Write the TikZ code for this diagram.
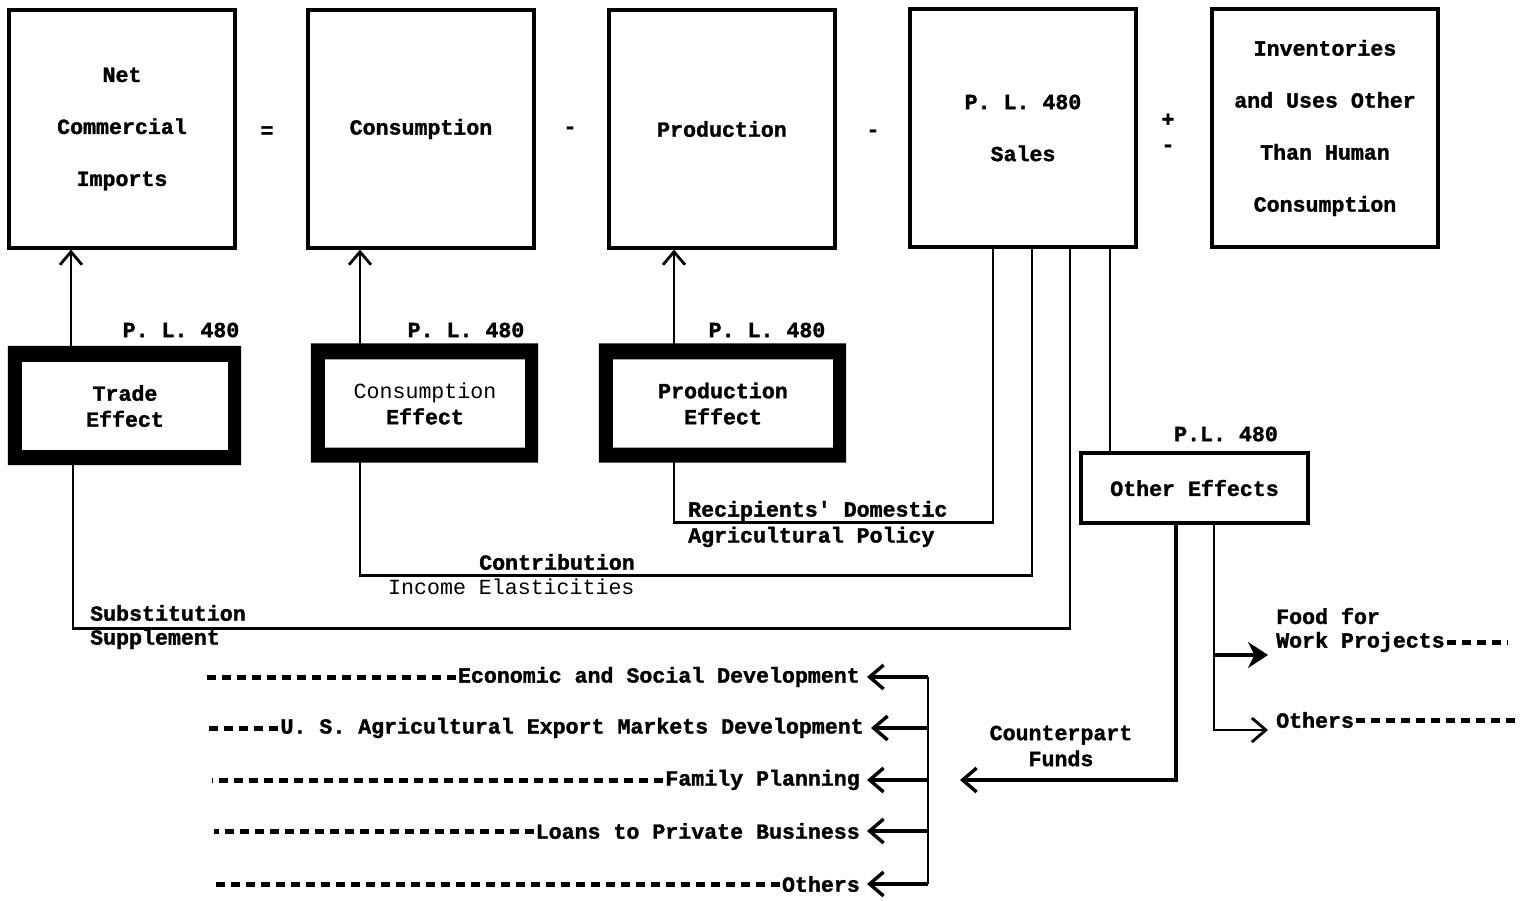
\documentclass[tikz,border=0pt]{standalone}
\usepackage{fontspec}
\setmonofont[BoldFeatures={FakeBold=1.5}]{Liberation Mono}
\usetikzlibrary{arrows.meta}

\tikzset{
  topbox/.style={draw, line width=3.2pt, minimum width=226pt, minimum height=238pt,
    align=center, font=\fontsize{21.6}{52}\selectfont\ttfamily\bfseries},
  effbox/.style={fill=white, minimum height=88pt, align=center, inner sep=0pt},
  othbox/.style={draw, line width=3.2pt, minimum width=227pt, minimum height=70pt},
  link/.style={line width=2.8pt},
  uparr/.style={link, -{Straight Barb[length=13pt,width=22pt]}},
  back/.style={line width=3.4pt, -{Straight Barb[length=14pt,width=24pt]}, shorten >=5pt},
  fwd/.style={line width=4.5pt, -{Stealth[length=20pt,width=26pt]}},
  leader/.style={line width=5pt, dash pattern=on 9pt off 6pt},
}
\newcommand{\effframe}[1]{
  % heavy black frame round an effect box
  \fill[even odd rule] ([shift={(-14,-16)}]#1.north west) rectangle ([shift={(13,15)}]#1.south east)
    (#1.north west) rectangle (#1.south east);
}

\begin{document}
\begin{tikzpicture}[x=1pt, y=-1pt,
  every node/.style={font=\fontsize{21.6}{26}\selectfont\ttfamily\bfseries, inner sep=2pt}]
\useasboundingbox (0,0) rectangle (1521,900);

% the identity
\node[topbox] (net) at (122,129) {Net\\Commercial\\Imports};
\node[topbox] (cons) at (421,129) {Consumption};
\node[topbox] (prod) at (722,129) {Production};
\node[topbox] (sales) at (1023,128) {P. L. 480\\Sales};
\node[topbox] (inv) at (1325,128) {Inventories\\and Uses Other\\Than Human\\Consumption};
\node (eq) at (267,132) {=};
\node (mi1) at (570,130) {-};
\node (mi2) at (873,133) {-};
\node (pl) at (1168,120) {+};
\node (mi3) at (1168,148) {-};

% effects
\node[effbox, minimum width=206pt] (trade) at (125,406) {Trade\\Effect};
\node[effbox, minimum width=200pt] (conseff) at (425,403.5) {{\mdseries Consumption}\\Effect};
\node[effbox, minimum width=220pt] (prodeff) at (723,403.5) {Production\\Effect};
\node[othbox] (other) at (1194.5,488) {Other Effects};
\node (pla) at (181,330) {P. L. 480};
\node (plb) at (466,330) {P. L. 480};
\node (plc) at (767,330) {P. L. 480};
\node (pld) at (1226,434) {P.L. 480};

\draw[uparr] ([xshift=-51pt]net.south |- trade.north) -- ([xshift=-51pt]net.south);
\draw[uparr] ([xshift=-61pt]cons.south |- conseff.north) -- ([xshift=-61pt]cons.south);
\draw[uparr] ([xshift=-48pt]prod.south |- prodeff.north) -- ([xshift=-48pt]prod.south);

\draw[link] ([xshift=-52pt]trade.south) -- ++(0,178) -| ([xshift=47pt]sales.south);
\draw[link] ([xshift=-65pt]conseff.south) -- ++(0,128) -| ([xshift=9pt]sales.south);
\draw[link] ([xshift=-49pt]prodeff.south) -- ++(0,75) -| ([xshift=-30pt]sales.south);
\draw[link] ([xshift=87pt]sales.south) -- ([xshift=87pt]sales.south |- other.north);

\effframe{trade}
\effframe{conseff}
\effframe{prodeff}

\node[anchor=west] (subs) at (88,613) {Substitution};
\node[anchor=west] (supp) at (88,639) {Supplement};
\node (contr) at (557,562) {Contribution};
\node[anchor=west, font=\fontsize{21.6}{26}\selectfont\ttfamily\mdseries] (incel) at (386,587) {Income Elasticities};
\node[anchor=west] (recip) at (686,511) {Recipients' Domestic};
\node[anchor=west] (agri) at (686,537) {Agricultural Policy};

% uses of the other effects
\coordinate (cf) at (960,780);
\coordinate (fa) at (1268,655);
\coordinate (oa) at (1268,730);
\node[align=center] (cpf) at (1061,746) {Counterpart\\Funds};
\draw[back, shorten >=0pt] ([xshift=-18.5pt]other.south) |- (cf);
\draw[link, -{Straight Barb[length=14pt,width=24pt]}] ([xshift=19.5pt]other.south) |- (oa);
\draw[fwd] ([xshift=19.5pt]other.south |- fa) -- (fa);
\node[anchor=west] (food) at (1274,616) {Food for};
\node[anchor=west] (work) at (1274,642) {Work Projects};
\node[anchor=west] (othr) at (1274,720) {Others};
\draw[leader] (work.east) -- (work.east -| 1508,0);
\draw[leader] (othr.east) -- (othr.east -| 1518,0);

% counterpart funds column
\node[anchor=east] (econ) at (862,677) {Economic and Social Development};
\node[anchor=east] (usag) at (866,728) {U. S. Agricultural Export Markets Development};
\node[anchor=east] (fam) at (862,780) {Family Planning};
\node[anchor=east] (loan) at (862,831) {Loans to Private Business};
\node[anchor=east] (othl) at (862,884) {Others};
\coordinate (ctop) at (928,677);
\coordinate (cbot) at (928,884);
\draw[link] (ctop) -- (cbot);
\foreach \n/\x in {econ/205, usag/207, fam/212, loan/214, othl/215} {
  \draw[back] (\n.east -| ctop) -- (\n.east);
  \draw[leader] (\n.west) -- (\n.west -| \x,0);
}
\end{tikzpicture}
\end{document}
